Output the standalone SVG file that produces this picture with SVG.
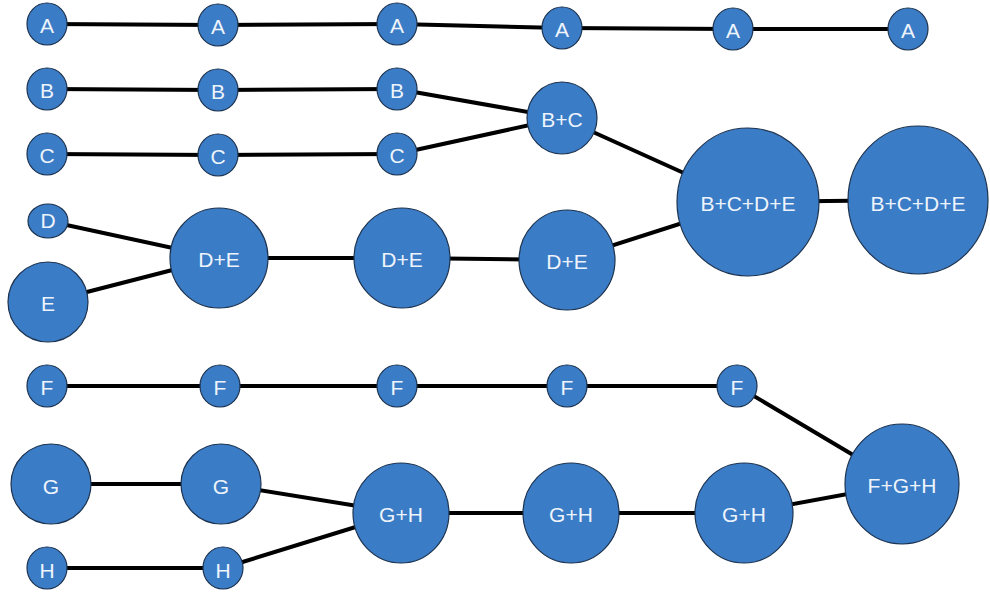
<svg xmlns="http://www.w3.org/2000/svg" width="990" height="593" viewBox="0 0 990 593">
<style>
.n ellipse{fill:#3b7cc6;stroke:#1c3350;stroke-width:1.2}
.n text{fill:#eef4fc;font-family:"Liberation Sans",Arial,sans-serif;font-size:21px;text-anchor:middle;dominant-baseline:central}
#edges line{stroke:#000;stroke-width:4;stroke-linecap:round}
</style>
<rect width="990" height="593" fill="#fff"/>
<g id="edges">
<line x1="47" y1="24" x2="218" y2="25"/>
<line x1="218" y1="25" x2="397" y2="24"/>
<line x1="397" y1="24" x2="562" y2="28"/>
<line x1="562" y1="28" x2="733" y2="29"/>
<line x1="733" y1="29" x2="908" y2="29"/>
<line x1="47" y1="89" x2="218" y2="90"/>
<line x1="218" y1="90" x2="397" y2="89"/>
<line x1="397" y1="89" x2="562" y2="118"/>
<line x1="47" y1="154" x2="218" y2="155"/>
<line x1="218" y1="155" x2="397" y2="154"/>
<line x1="397" y1="154" x2="562" y2="118"/>
<line x1="562" y1="118" x2="748" y2="202"/>
<line x1="48" y1="221" x2="219" y2="258"/>
<line x1="48" y1="302" x2="219" y2="258"/>
<line x1="219" y1="258" x2="402" y2="258"/>
<line x1="402" y1="258" x2="567" y2="260"/>
<line x1="567" y1="260" x2="748" y2="202"/>
<line x1="748" y1="202" x2="918" y2="200"/>
<line x1="47" y1="386" x2="220" y2="386"/>
<line x1="220" y1="386" x2="397" y2="386"/>
<line x1="397" y1="386" x2="567" y2="386"/>
<line x1="567" y1="386" x2="737" y2="386"/>
<line x1="737" y1="386" x2="902" y2="484"/>
<line x1="51" y1="484" x2="221" y2="484"/>
<line x1="221" y1="484" x2="401" y2="513"/>
<line x1="47" y1="568" x2="223" y2="568"/>
<line x1="223" y1="568" x2="401" y2="513"/>
<line x1="401" y1="513" x2="571" y2="513"/>
<line x1="571" y1="513" x2="744" y2="513"/>
<line x1="744" y1="513" x2="902" y2="484"/>
</g>
<g id="A1" class="n"><ellipse cx="47" cy="24" rx="20" ry="21"/><text x="47" y="25">A</text></g>
<g id="A2" class="n"><ellipse cx="218" cy="25" rx="20" ry="21"/><text x="218" y="26">A</text></g>
<g id="A3" class="n"><ellipse cx="397" cy="24" rx="20" ry="21"/><text x="397" y="25">A</text></g>
<g id="A4" class="n"><ellipse cx="562" cy="28" rx="20" ry="21"/><text x="562" y="29">A</text></g>
<g id="A5" class="n"><ellipse cx="733" cy="29" rx="20" ry="21"/><text x="733" y="30">A</text></g>
<g id="A6" class="n"><ellipse cx="908" cy="29" rx="20" ry="21"/><text x="908" y="30">A</text></g>
<g id="B1" class="n"><ellipse cx="47" cy="89" rx="20" ry="21"/><text x="47" y="90">B</text></g>
<g id="B2" class="n"><ellipse cx="218" cy="90" rx="20" ry="21"/><text x="218" y="91">B</text></g>
<g id="B3" class="n"><ellipse cx="397" cy="89" rx="20" ry="21"/><text x="397" y="90">B</text></g>
<g id="C1" class="n"><ellipse cx="47" cy="154" rx="20" ry="21"/><text x="47" y="155">C</text></g>
<g id="C2" class="n"><ellipse cx="218" cy="155" rx="20" ry="21"/><text x="218" y="156">C</text></g>
<g id="C3" class="n"><ellipse cx="397" cy="154" rx="20" ry="21"/><text x="397" y="155">C</text></g>
<g id="BC" class="n"><ellipse cx="562" cy="118" rx="35" ry="36"/><text x="562" y="119">B+C</text></g>
<g id="BCDE1" class="n"><ellipse cx="748" cy="202" rx="71" ry="74"/><text x="748" y="203">B+C+D+E</text></g>
<g id="BCDE2" class="n"><ellipse cx="918" cy="200" rx="70" ry="74"/><text x="918" y="203">B+C+D+E</text></g>
<g id="D" class="n"><ellipse cx="48" cy="221" rx="20" ry="17"/><text x="48" y="220">D</text></g>
<g id="E" class="n"><ellipse cx="48" cy="302" rx="40" ry="40"/><text x="48" y="303">E</text></g>
<g id="DE1" class="n"><ellipse cx="219" cy="258" rx="49" ry="50"/><text x="219" y="259">D+E</text></g>
<g id="DE2" class="n"><ellipse cx="402" cy="258" rx="48" ry="50"/><text x="402" y="259">D+E</text></g>
<g id="DE3" class="n"><ellipse cx="567" cy="260" rx="48" ry="50"/><text x="567" y="261">D+E</text></g>
<g id="F1" class="n"><ellipse cx="47" cy="386" rx="20" ry="21"/><text x="47" y="387">F</text></g>
<g id="F2" class="n"><ellipse cx="220" cy="386" rx="20" ry="21"/><text x="220" y="387">F</text></g>
<g id="F3" class="n"><ellipse cx="397" cy="386" rx="20" ry="21"/><text x="397" y="387">F</text></g>
<g id="F4" class="n"><ellipse cx="567" cy="386" rx="20" ry="21"/><text x="567" y="387">F</text></g>
<g id="F5" class="n"><ellipse cx="737" cy="386" rx="20" ry="21"/><text x="737" y="387">F</text></g>
<g id="G1" class="n"><ellipse cx="51" cy="484" rx="40" ry="40"/><text x="51" y="486">G</text></g>
<g id="G2" class="n"><ellipse cx="221" cy="484" rx="40" ry="40"/><text x="221" y="486">G</text></g>
<g id="H1" class="n"><ellipse cx="47" cy="568" rx="20" ry="21"/><text x="47" y="570">H</text></g>
<g id="H2" class="n"><ellipse cx="223" cy="568" rx="20" ry="21"/><text x="223" y="570">H</text></g>
<g id="GH1" class="n"><ellipse cx="401" cy="513" rx="48" ry="50"/><text x="401" y="514">G+H</text></g>
<g id="GH2" class="n"><ellipse cx="571" cy="513" rx="48" ry="50"/><text x="571" y="514">G+H</text></g>
<g id="GH3" class="n"><ellipse cx="744" cy="513" rx="49" ry="50"/><text x="744" y="514">G+H</text></g>
<g id="FGH" class="n"><ellipse cx="902" cy="484" rx="57" ry="60"/><text x="902" y="485">F+G+H</text></g>
</svg>
